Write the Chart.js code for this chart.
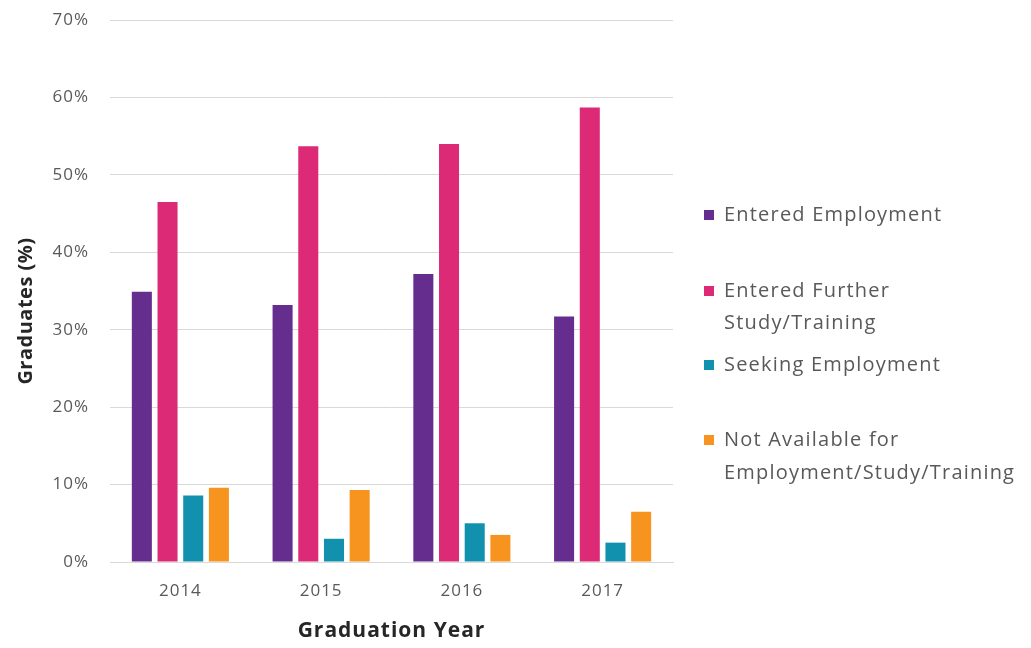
<!DOCTYPE html>
<html>
<head>
<meta charset="utf-8">
<script src="https://cdn.jsdelivr.net/npm/chart.js@4"></script>
<style>
  html, body { margin: 0; padding: 0; background: #fff; }
  #wrap { width: 1031px; height: 648px; }
</style>
</head>
<body>
<div id="wrap"><canvas id="gradChart"></canvas></div>
<script>
var years = ["2014", "2015", "2016", "2017"];
var seriesNames = [
    ["Entered Employment"],
    ["Entered Further", "Study/Training"],
    ["Seeking Employment"],
    ["Not Available for", "Employment/Study/Training"]
];
var enteredEmployment = [34.9, 33.2, 37.2, 31.7];
var furtherStudy = [46.5, 53.7, 54.0, 58.7];
var seekingEmployment = [8.6, 3.0, 5.0, 2.5];
var notAvailable = [9.6, 9.3, 3.5, 6.5];
var yTicks = [0, 10, 20, 30, 40, 50, 60, 70];

var colors = ['#652d8e', '#dc2a76', '#1291ae', '#f7941f'];
var font = "'Open Sans', 'Noto Sans', sans-serif";

// wider letter spacing like the original export
var spacing = {
    id: 'spacing',
    beforeDraw: function(chart) { chart.ctx.letterSpacing = '1px'; }
};

// legend on the right with multi-line labels, plus y title
var sideLegend = {
    id: 'sideLegend',
    afterDraw: function(chart) {
        var ctx = chart.ctx;
        var rows = [[215], [291, 323], [365], [440, 473]];
        ctx.save();
        ctx.letterSpacing = '1.2px';
        ctx.font = "20px " + font;
        ctx.textBaseline = 'middle';
        chart.data.datasets.forEach(function(ds, i) {
            ctx.fillStyle = ds.backgroundColor;
            ctx.fillRect(704, rows[i][0] - 5, 10, 10);
            ctx.fillStyle = '#595959';
            seriesNames[i].forEach(function(txt, j) {
                ctx.fillText(txt, 724, rows[i][j]);
            });
        });
        ctx.restore();

        ctx.save();
        ctx.letterSpacing = '0.5px';
        ctx.translate(26, 311);
        ctx.rotate(-Math.PI / 2);
        ctx.font = "bold 20px " + font;
        ctx.fillStyle = '#262626';
        ctx.textAlign = 'center';
        ctx.textBaseline = 'middle';
        ctx.fillText('Graduates (%)', 0, 0);
        ctx.restore();
    }
};

var ctx = document.getElementById('gradChart').getContext('2d');
var gradChart = new Chart(ctx, {
    type: 'bar',
    data: {
        labels: years,
        datasets: [
            { label: seriesNames[0].join(' '), data: enteredEmployment, backgroundColor: colors[0] },
            { label: seriesNames[1].join(' '), data: furtherStudy, backgroundColor: colors[1] },
            { label: seriesNames[2].join(' '), data: seekingEmployment, backgroundColor: colors[2] },
            { label: seriesNames[3].join(' '), data: notAvailable, backgroundColor: colors[3] }
        ]
    },
    options: {
        responsive: true,
        maintainAspectRatio: false,
        animation: false,
        categoryPercentage: 0.73,
        barPercentage: 0.78,
        layout: { padding: { top: 20, right: 358, left: 0, bottom: 0 } },
        plugins: {
            legend: { display: false },
            tooltip: { enabled: false }
        },
        scales: {
            x: {
                grid: { display: false, drawTicks: false },
                border: { display: true, color: '#d9d9d9', width: 1 },
                ticks: { color: '#595959', font: { family: font, size: 17 }, padding: 19 },
                title: {
                    display: true, text: 'Graduation Year', color: '#262626',
                    font: { family: font, size: 21, weight: 'bold' }, padding: { top: 13 }
                },
                afterFit: function(scale) { scale.height = 86; }
            },
            y: {
                min: 0,
                max: 70,
                afterBuildTicks: function(scale) {
                    scale.ticks = yTicks.map(function(v) { return { value: v }; });
                },
                grid: { color: '#d9d9d9', drawTicks: false },
                border: { display: false },
                ticks: {
                    color: '#595959', font: { family: font, size: 17 }, padding: 21,
                    callback: function(v) { return v + '%'; }
                },
                afterFit: function(scale) {
                    scale.width = 110;
                    scale.paddingTop = 0;
                    scale.paddingBottom = 0;
                }
            }
        }
    },
    plugins: [spacing, sideLegend]
});
</script>
</body>
</html>
